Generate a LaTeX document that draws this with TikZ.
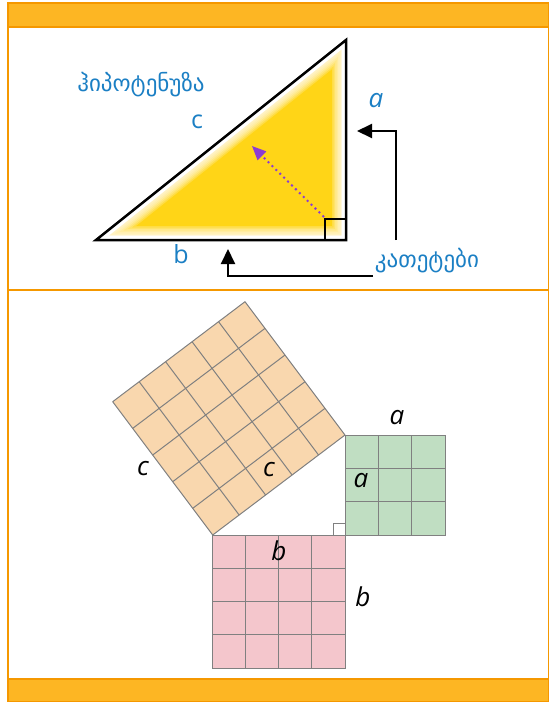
\documentclass[tikz,border=0pt]{standalone}
\usepackage{fontspec}
\setmainfont{Open Sans}
\newfontfamily\geofont{DejaVu Sans}
\definecolor{boxOrange}{RGB}{253,182,35}
\definecolor{boxEdge}{RGB}{245,152,0}
\definecolor{labelBlue}{RGB}{27,127,196}
\definecolor{triYellow}{RGB}{255,213,23}
\definecolor{arrowPurple}{RGB}{140,60,210}
\definecolor{sqOrange}{RGB}{249,215,174}
\definecolor{sqGreen}{RGB}{192,222,194}
\definecolor{sqPink}{RGB}{244,198,204}
\usetikzlibrary{arrows.meta, calc}

\begin{document}
\begin{tikzpicture}[x=1pt, y=-1pt,
    bluelabel/.style={text=labelBlue, font=\fontsize{25}{25}\selectfont},
    geolabel/.style={text=labelBlue, font=\geofont\fontsize{23}{23}\selectfont},
    sidelabel/.style={font=\itshape\fontsize{26}{26}\selectfont},
    cellline/.style={black!50, line width=1pt},
    pointer/.style={line width=2pt, -{Triangle[length=15pt,width=14pt]}}]
    \useasboundingbox (0,0) rectangle (549,702);

    % Frame
    \draw[boxEdge, line width=1.5pt] (8,3) rectangle (548.5,702);
    \draw[boxEdge, line width=1.5pt, fill=boxOrange] (8,3) rectangle (548.5,27);
    \draw[boxEdge, line width=1.5pt] (8,290) -- (548.5,290);
    \draw[boxEdge, line width=1.5pt, fill=boxOrange] (8,679) rectangle (548.5,702);

    % Triangle
    \coordinate (L) at (96,240);
    \coordinate (T) at (346,40);
    \coordinate (R) at (346,240);
    \begin{scope}
      \clip (L) -- (T) -- (R) -- cycle;
      \fill[triYellow] (L) -- (T) -- (R) -- cycle;
      \foreach \w in {28,25,...,10} {
        \draw[white, opacity=0.2, line width=\w pt, line join=round] (L) -- (T) -- (R) -- cycle;
      }
      \draw[white, line width=9pt] (L) -- (T) -- (R) -- cycle;
    \end{scope}
    \draw[line width=2.5pt, line join=miter] (L) -- (T) -- (R) -- cycle;
    \draw[line width=2pt] ($(R)+(-21,0)$) -- ++(0,-21) -- ++(21,0);

    \coordinate (p1) at (324,217);
    \coordinate (p2) at (252,146);
    \draw[arrowPurple, line width=2pt, dash pattern=on 2pt off 3.5pt,
      -{Triangle[length=14pt,width=12pt]}] (p1) -- (p2);

    \node[geolabel] (hyp) at (141,85) {ჰიპოტენუზა};
    \node[bluelabel] (c1) at (197,122) {c};
    \node[bluelabel] (b1) at (181,254) {b};
    \node[bluelabel, font=\itshape\fontsize{26}{26}\selectfont] (a1) at (376,101) {a};
    \node[geolabel] (kat) at (427,261) {კათეტები};

    % Arrows to the legs
    \coordinate (ka) at (396,240);
    \coordinate (kb) at (373,276);
    \draw[pointer] (ka) -- (396,131) -- (357,131);
    \draw[pointer] (kb) -- (228,276) -- (228,249);

    % Squares
    \coordinate (G1) at (345,535);
    \coordinate (G2) at (445,535);
    \coordinate (G3) at (445,435);
    \coordinate (G4) at (345,435);
    \fill[sqGreen] (G1) -- (G2) -- (G3) -- (G4) -- cycle;
    \foreach \i in {1,2} {
      \draw[cellline] ($(G1)!\i/3!(G2)$) -- ($(G4)!\i/3!(G3)$);
      \draw[cellline] ($(G1)!\i/3!(G4)$) -- ($(G2)!\i/3!(G3)$);
    }
    \draw[cellline] (G1) -- (G2) -- (G3) -- (G4) -- cycle;

    \coordinate (P1) at (212.7,668);
    \coordinate (P2) at (345,668);
    \coordinate (P3) at (345,535);
    \coordinate (P4) at (212.7,535);
    \fill[sqPink] (P1) -- (P2) -- (P3) -- (P4) -- cycle;
    \foreach \i in {1,2,3} {
      \draw[cellline] ($(P1)!\i/4!(P2)$) -- ($(P4)!\i/4!(P3)$);
      \draw[cellline] ($(P1)!\i/4!(P4)$) -- ($(P2)!\i/4!(P3)$);
    }
    \draw[cellline] (P1) -- (P2) -- (P3) -- (P4) -- cycle;

    \coordinate (O1) at (212.7,535);
    \coordinate (O2) at (345,435);
    \coordinate (O3) at (245,301.7);
    \coordinate (O4) at (112.7,401.7);
    \fill[sqOrange] (O1) -- (O2) -- (O3) -- (O4) -- cycle;
    \foreach \i in {1,...,4} {
      \draw[cellline] ($(O1)!\i/5!(O2)$) -- ($(O4)!\i/5!(O3)$);
      \draw[cellline] ($(O1)!\i/5!(O4)$) -- ($(O2)!\i/5!(O3)$);
    }
    \draw[cellline, line join=round] (O1) -- (O2) -- (O3) -- (O4) -- cycle;

    \draw[black!50, line width=1pt] (333,535) |- (345,523);

    % Side labels
    \node[sidelabel] (a2) at (397,418) {a};
    \node[sidelabel] (a3) at (361,481) {a};
    \node[sidelabel] (b2) at (279,551) {b};
    \node[sidelabel] (b3) at (363,597) {b};
    \node[sidelabel] (c2) at (143,469) {c};
    \node[sidelabel] (c3) at (269,470) {c};
\end{tikzpicture}
\end{document}
